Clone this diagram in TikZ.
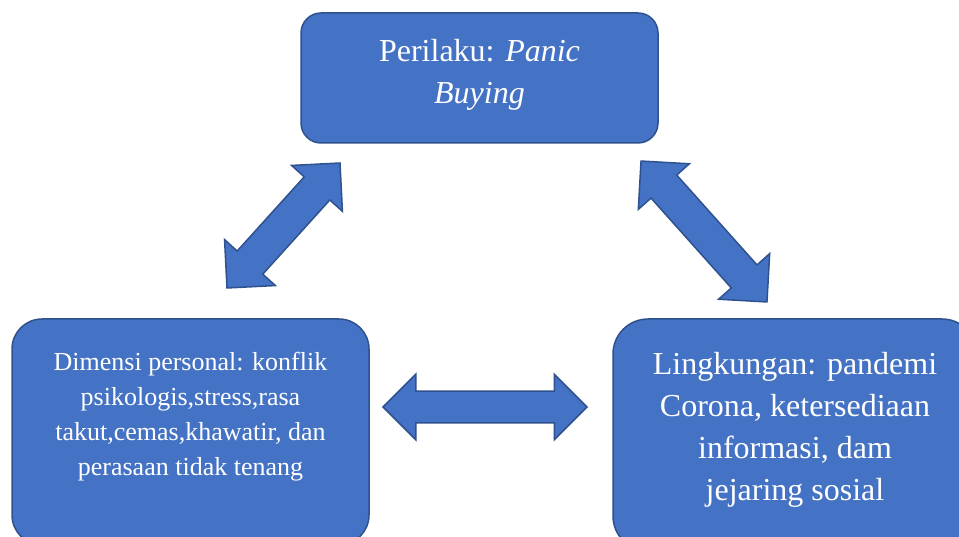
\documentclass[tikz,border=0pt]{standalone}
\usepackage{fontspec}
\setmainfont{Liberation Serif}
\usetikzlibrary{shapes.arrows, positioning}
\definecolor{boxblue}{HTML}{4472C4}
\definecolor{boxedge}{HTML}{2F528F}

\begin{document}
\begin{tikzpicture}[
    x=1pt, y=-1pt,
    box/.style={
        rectangle,
        rounded corners=#1,
        draw=boxedge,
        line width=1.5pt,
        fill=boxblue,
        inner sep=0pt
    },
    boxtext/.style={
        text=white,
        align=center,
        inner sep=0pt
    },
    dblarrow/.style={
        double arrow,
        double arrow head extend=17pt,
        inner xsep=0pt,
        inner ysep=#1,
        draw=boxedge,
        line width=1.5pt,
        fill=boxblue,
        sloped
    }
]
\useasboundingbox (0,0) rectangle (959,537);

% Boxes
\node[box=20pt, minimum width=357pt, minimum height=130pt] (perilaku) at (479.5,78) {};
\node[box=30pt, minimum width=357pt, minimum height=226pt] (personal) at (190.5,432) {};
\node[box=35pt, minimum width=364pt, minimum height=232pt] (lingkungan) at (795,435) {};

% Texts
\node[boxtext, font=\fontsize{32}{42}\selectfont, below=27pt of perilaku.north] (perilakutext) {Perilaku: \textit{Panic}\\\textit{Buying}};
\node[boxtext, font=\fontsize{26}{35}\selectfont, below=34pt of personal.north] (personaltext) {Dimensi personal: konflik\\psikologis,stress,rasa\\takut,cemas,khawatir, dan\\perasaan tidak tenang};
\node[boxtext, font=\fontsize{32}{42}\selectfont, below=34pt of lingkungan.north] (lingkungantext) {Lingkungan: pandemi\\Corona, ketersediaan\\informasi, dam\\jejaring sosial};

% Tips of the block arrows
\coordinate (kiribawah) at (227,288);
\coordinate (kiriatas) at (340,163);
\coordinate (kananatas) at (641,161);
\coordinate (kananbawah) at (767,302);
\coordinate (tengahkiri) at (383,407);
\coordinate (tengahkanan) at (587,407);

% Block arrows
\path (kiribawah) -- node[dblarrow=16.5pt, minimum height=168.5pt] (arrowkiri) {} (kiriatas);
\path (kananatas) -- node[dblarrow=16.5pt, minimum height=189pt] (arrowkanan) {} (kananbawah);
\path (tengahkiri) -- node[dblarrow=15pt, minimum height=204pt] (arrowtengah) {} (tengahkanan);

\end{tikzpicture}
\end{document}
